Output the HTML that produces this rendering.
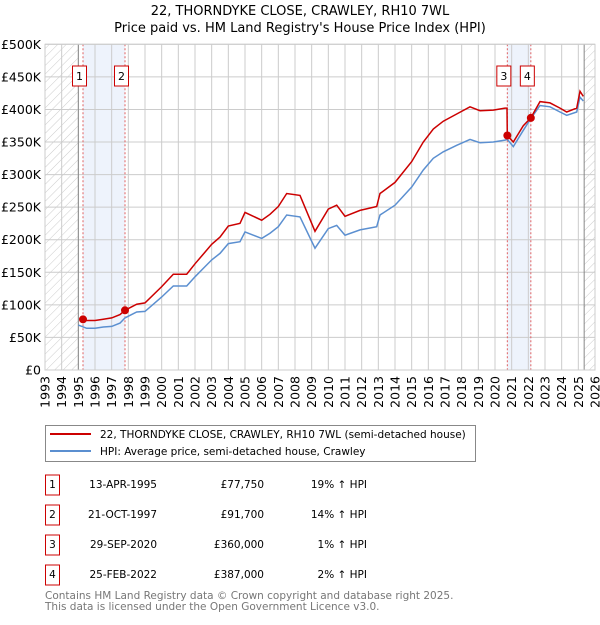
<!DOCTYPE html>
<html><head><meta charset="utf-8"><style>
body{margin:0;background:#fff;width:600px;height:620px;overflow:hidden}
svg text{font-family:"DejaVu Sans","Liberation Sans",sans-serif;}
</style></head><body>
<svg id="chart" width="600" height="620" xmlns="http://www.w3.org/2000/svg">
<defs>
<pattern id="hatch" width="6" height="6" patternUnits="userSpaceOnUse" patternTransform="rotate(45)">
<line x1="0" y1="0" x2="0" y2="6" stroke="#ccc" stroke-width="1"/></pattern>
</defs>
<text x="300" y="15" text-anchor="middle" font-size="13">22, THORNDYKE CLOSE, CRAWLEY, RH10 7WL</text>
<text x="300" y="32" text-anchor="middle" font-size="13">Price paid vs. HM Land Registry's House Price Index (HPI)</text>
<g id="plot"></g>
<g>
<rect x="45.5" y="425.5" width="430" height="36" fill="#fff" stroke="#888"/>
<line x1="50" y1="434" x2="91" y2="434" stroke="#cc0000" stroke-width="2"/>
<text x="100" y="438" font-size="10.5">22, THORNDYKE CLOSE, CRAWLEY, RH10 7WL (semi-detached house)</text>
<line x1="50" y1="451" x2="91" y2="451" stroke="#5b8fd0" stroke-width="2"/>
<text x="100" y="455" font-size="10.5">HPI: Average price, semi-detached house, Crawley</text>
</g>
<g id="table"></g>
<text x="45" y="599" font-size="10.5" fill="#777">Contains HM Land Registry data © Crown copyright and database right 2025.</text>
<text x="45" y="610" font-size="10.5" fill="#777">This data is licensed under the Open Government Licence v3.0.</text>
</svg>
<script>
const dates=[1995.0,1995.5,1996,1996.5,1997,1997.5,1997.8,1998.5,1999,2000,2000.7,2001.5,2002,2002.5,2003,2003.5,2004,2004.7,2005,2005.5,2006,2006.5,2007,2007.5,2008.3,2009.2,2010,2010.5,2011,2011.9,2012.9,2013.1,2014,2015,2015.7,2016.3,2016.9,2017.7,2018.5,2019.1,2019.9,2020.6,2020.74,2021.1,2021.7,2022.15,2022.7,2023.3,2023.9,2024.3,2024.9,2025.1,2025.3];
const hpiValues=[69,64,64,66,67,72,80,89,90,112,129,129,143,156,169,179,194,197,212,207,202,210,220,238,235,187,217,222,207,215,220,238,253,281,307,325,335,345,354,349,350,353,354,343,368,386,406,404,396,391,396,419,413];
const redDates=[1995.28,1995.5,1996,1996.5,1997,1997.5,1997.8,1998.5,1999,2000,2000.7,2001.5,2002,2002.5,2003,2003.5,2004,2004.7,2005,2005.5,2006,2006.5,2007,2007.5,2008.3,2009.2,2010,2010.5,2011,2011.9,2012.9,2013.1,2014,2015,2015.7,2016.3,2016.9,2017.7,2018.5,2019.1,2019.9,2020.6,2020.72,2020.74,2021.1,2021.7,2022.15,2022.7,2023.3,2023.9,2024.3,2024.9,2025.1,2025.3];
const redValues=[77.75,76,76,78,80,85,91.7,101,103,128,147,147,163,178,193,204,221,225,242,236,230,239,251,271,268,213,247,253,236,245,251,271,288,320,350,370,382,393,404,398,399,402,402,360,350,375,387,412,410,402,396,402,428,420];
const saleDates=[1995.28,1997.8,2020.74,2022.15];
const salePrices=[77.75,91.7,360,387];
const saleLabels=["1","2","3","4"];
const saleDateText=["13-APR-1995","21-OCT-1997","29-SEP-2020","25-FEB-2022"];
const salePriceText=["£77,750","£91,700","£360,000","£387,000"];
const salePctText=["19% ↑ HPI","14% ↑ HPI","1% ↑ HPI","2% ↑ HPI"];
const yTicks=[0,50,100,150,200,250,300,350,400,450,500];
const yTickLabels=["£0","£50K","£100K","£150K","£200K","£250K","£300K","£350K","£400K","£450K","£500K"];
const xYears=[1993,1994,1995,1996,1997,1998,1999,2000,2001,2002,2003,2004,2005,2006,2007,2008,2009,2010,2011,2012,2013,2014,2015,2016,2017,2018,2019,2020,2021,2022,2023,2024,2025,2026];

const X0=45,X1=595,Y0=370,Y1=44.3;
const xs=y=>X0+(y-1993)/(2026-1993)*(X1-X0);
const ys=v=>Y0-v/500*(Y0-Y1);
const NS="http://www.w3.org/2000/svg";
const plot=document.getElementById('plot');
function mk(tag,attrs,parent){const e=document.createElementNS(NS,tag);for(const k in attrs)e.setAttribute(k,attrs[k]);(parent||plot).appendChild(e);return e;}

let bg=mk('rect',{x:X0,y:Y1,width:X1-X0,height:Y0-Y1,fill:'#fff'});


let h1=mk('rect',{x:X0,y:Y1,width:xs(1995)-X0,height:Y0-Y1,fill:'url(#hatch)'});


let h2=mk('rect',{x:xs(2025.35),y:Y1,width:X1-xs(2025.35),height:Y0-Y1,fill:'url(#hatch)'});


let s1=mk('rect',{x:xs(saleDates[0]),y:Y1,width:xs(saleDates[1])-xs(saleDates[0]),height:Y0-Y1,fill:'#eef3fc'});


let s2=mk('rect',{x:xs(saleDates[2]),y:Y1,width:xs(saleDates[3])-xs(saleDates[2]),height:Y0-Y1,fill:'#eef3fc'});



yTicks.forEach((v,i)=>{
  let g=mk('line',{x1:X0,x2:X1,y1:ys(v),y2:ys(v),stroke:'#ccc','stroke-width':1});
  
  
  let t=mk('text',{x:X0-4,y:ys(v)+4.5,'text-anchor':'end','font-size':'12.5'});
  t.textContent=yTickLabels[i];
  
  
});
xYears.forEach(yr=>{
  let g=mk('line',{x1:xs(yr),x2:xs(yr),y1:Y1,y2:Y0,stroke:'#ccc','stroke-width':1});
  
  
  let t=mk('text',{x:0,y:0,'font-size':'12.5','text-anchor':'end',transform:`translate(${xs(yr)+4.5},${Y0+6}) rotate(-90)`});
  t.textContent=yr;
  
  
});
let l1=mk('line',{x1:xs(1995),x2:xs(1995),y1:Y1,y2:Y0,stroke:'#888'});


let l2=mk('line',{x1:xs(2025.35),x2:xs(2025.35),y1:Y1,y2:Y0,stroke:'#888'});



saleDates.forEach((d,i)=>{
  let v=mk('line',{x1:xs(d),x2:xs(d),y1:Y1,y2:Y0,stroke:'#e06060','stroke-dasharray':'2,2'});
  
  
});

function path(dx,vals){return dx.map((d,i)=>(i?'L':'M')+xs(d).toFixed(1)+','+ys(vals[i]).toFixed(1)).join('');}
let hp=mk('path',{d:path(dates,hpiValues),fill:'none',stroke:'#5b8fd0','stroke-width':1.5});


let rp=mk('path',{d:path(redDates,redValues),fill:'none',stroke:'#cc0000','stroke-width':1.5});



saleDates.forEach((d,i)=>{
  let c=mk('circle',{cx:xs(d),cy:ys(salePrices[i]),r:4,fill:'#cc0000'});
  
  
  const cx=xs(d)-3.5;
  let r=mk('rect',{x:cx-7,y:66,width:14,height:20,fill:'#fff',stroke:'#cc0000'});
  
  
  let t=mk('text',{x:cx,y:80,'text-anchor':'middle','font-size':'11'});
  t.textContent=saleLabels[i];
  
  
});
let fr=mk('rect',{x:X0,y:Y1,width:X1-X0,height:Y0-Y1,fill:'none',stroke:'#ccc'});



const tbl=document.getElementById('table');
saleLabels.forEach((lab,i)=>{
  const cy=485+i*30;
  let b=mk('rect',{x:45.5,y:cy-10,width:14,height:20,fill:'#fff',stroke:'#cc0000'},tbl);
  
  
  let t=mk('text',{x:52.5,y:cy+3,'text-anchor':'middle','font-size':'10.5'},tbl);
  t.textContent=lab;
  
  
  let d=mk('text',{x:157,y:cy+3,'text-anchor':'end','font-size':'10.5'},tbl);
  d.textContent=saleDateText[i];
  
  
  let p=mk('text',{x:264,y:cy+3,'text-anchor':'end','font-size':'10.5'},tbl);
  p.textContent=salePriceText[i];
  
  
  let q=mk('text',{x:367,y:cy+3,'text-anchor':'end','font-size':'10.5'},tbl);
  q.textContent=salePctText[i];
  
  
});
</script>
</body></html>
